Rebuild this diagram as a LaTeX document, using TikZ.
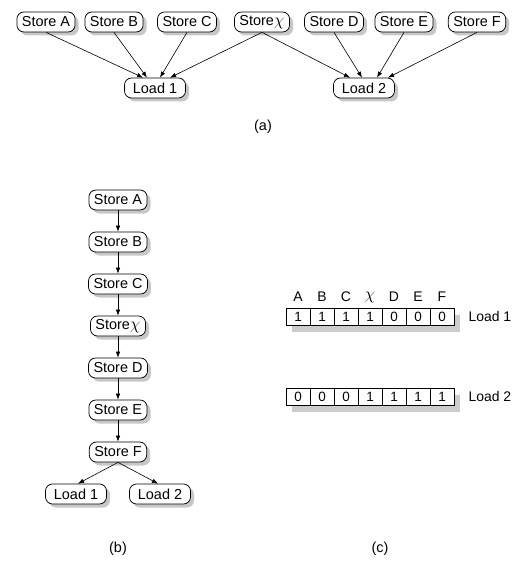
\documentclass[tikz,border=0pt]{standalone}
\usepackage{fontspec}
\setmainfont{Liberation Sans}
\usetikzlibrary{shadows,arrows.meta,calc}
\newcommand{\bigchi}{{\fontsize{17}{17}\selectfont$\chi$}}
\begin{document}
\begin{tikzpicture}[x=1bp,y=-1bp,
 nd/.style={draw,line width=0.75bp,rounded corners=7bp,fill=white,inner xsep=5bp,inner ysep=0bp,minimum height=20bp,
   font=\fontsize{14.5}{16}\selectfont,
   drop shadow={shadow xshift=3.5bp,shadow yshift=-3.5bp,fill=black!22,opacity=1}},
 ld/.style={nd,minimum width=61bp},
 arr/.style={-{Latex[length=6bp,width=4.5bp]},line width=0.6bp},
 cell/.style={draw,line width=0.75bp,minimum width=24bp,minimum height=17bp,inner sep=0pt,font=\fontsize{13.5}{14}\selectfont,fill=white},
 lbl/.style={font=\fontsize{14}{15}\selectfont},
 captxt/.style={font=\fontsize{14.5}{16}\selectfont}]
\useasboundingbox (0,0) rectangle (513,573);

% ---------- (a) ----------
\node[nd] (aA) at (46,22) {Store A};
\node[nd] (aB) at (114,22) {Store B};
\node[nd] (aC) at (187,22) {Store C};
\node[nd] (aX) at (262,22) {Store\bigchi};
\node[nd] (aD) at (334,22) {Store D};
\node[nd] (aE) at (404,22) {Store E};
\node[nd] (aF) at (477,22) {Store F};
\node[ld] (aL1) at (155,88) {Load 1};
\node[ld] (aL2) at (364,88) {Load 2};
\draw[arr] (aA.south) -- ([xshift=-12bp]aL1.north);
\draw[arr] (aB.south) -- ([xshift=-8bp]aL1.north);
\draw[arr] (aC.south) -- ([xshift=5bp]aL1.north);
\draw[arr] (aX.south) -- ([xshift=15bp]aL1.north);
\draw[arr] (aX.south) -- ([xshift=-14bp]aL2.north);
\draw[arr] (aD.south) -- ([xshift=-2bp]aL2.north);
\draw[arr] (aE.south) -- ([xshift=13bp]aL2.north);
\draw[arr] (aF.south) -- ([xshift=24bp]aL2.north);
\node[captxt] (capa) at (263,127) {(a)};

% ---------- (b) ----------
\node[nd] (bA) at (118,200) {Store A};
\node[nd] (bB) at (118,242) {Store B};
\node[nd] (bC) at (118,284) {Store C};
\node[nd] (bX) at (118,326) {Store\bigchi};
\node[nd] (bD) at (118,368) {Store D};
\node[nd] (bE) at (118,410) {Store E};
\node[nd] (bF) at (118,452) {Store F};
\node[ld] (bL1) at (76,494) {Load 1};
\node[ld] (bL2) at (160,494) {Load 2};
\draw[arr] (bA.south) -- (bB.north);
\draw[arr] (bB.south) -- (bC.north);
\draw[arr] (bC.south) -- (bX.north);
\draw[arr] (bX.south) -- (bD.north);
\draw[arr] (bD.south) -- (bE.north);
\draw[arr] (bE.south) -- (bF.north);
\draw[arr] (bF.south) -- ([xshift=2bp]bL1.north);
\draw[arr] (bF.south) -- ([xshift=-2bp]bL2.north);
\node[captxt] (capb) at (118,549) {(b)};

% ---------- (c) ----------
\fill[black!20] (292,315) rectangle (460,332);
\fill[black!20] (292,395) rectangle (460,412);
\foreach \v [count=\i] in {1,1,1,1,0,0,0}
  \node[cell] (ra\i) at ({274+24*\i},316.5) {\v};
\foreach \v [count=\i] in {0,0,0,1,1,1,1}
  \node[cell] (rb\i) at ({274+24*\i},396.5) {\v};
\foreach \l [count=\i] in {A,B,C,\bigchi,D,E,F}
  \node[lbl] (h\i) at ({274+24*\i},297) {\l};
\node[lbl,anchor=west] (cL1) at (465,316.5) {Load 1};
\node[lbl,anchor=west] (cL2) at (465,396.5) {Load 2};
\node[captxt] (capc) at (380,549) {(c)};
\end{tikzpicture}
\end{document}
